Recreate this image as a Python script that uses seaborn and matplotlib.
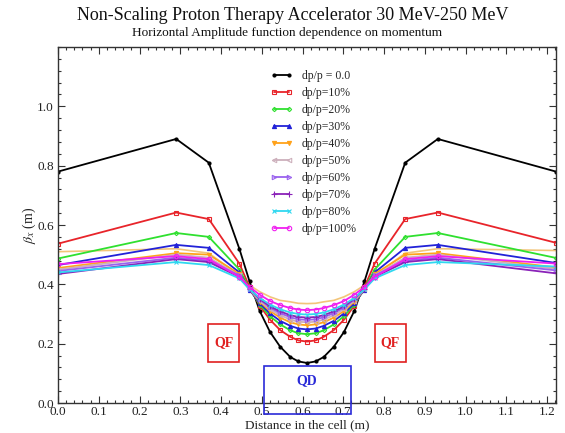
import matplotlib
matplotlib.use("Agg")
import matplotlib.pyplot as plt
import seaborn as sns
from matplotlib.patches import Rectangle
from matplotlib.ticker import MultipleLocator

# ---------------- data ----------------
distance = [0.0, 0.29, 0.37, 0.445, 0.47, 0.495, 0.52, 0.545, 0.57, 0.59, 0.611,
            0.632, 0.652, 0.677, 0.702, 0.727, 0.752, 0.777, 0.852, 0.932, 1.222]

beta_0 = [0.78, 0.89, 0.81, 0.52, 0.41, 0.31, 0.24, 0.19, 0.155, 0.14, 0.135,
          0.14, 0.155, 0.19, 0.24, 0.31, 0.41, 0.52, 0.81, 0.89, 0.78]
beta_10 = [0.537, 0.642, 0.62, 0.47, 0.391, 0.328, 0.281, 0.246, 0.223, 0.211, 0.207,
           0.211, 0.223, 0.246, 0.281, 0.328, 0.391, 0.47, 0.62, 0.642, 0.54]
beta_20 = [0.487, 0.573, 0.56, 0.45, 0.385, 0.332, 0.293, 0.265, 0.245, 0.235, 0.232,
           0.235, 0.245, 0.265, 0.293, 0.332, 0.385, 0.45, 0.56, 0.573, 0.489]
beta_30 = [0.465, 0.533, 0.523, 0.44, 0.382, 0.336, 0.302, 0.277, 0.26, 0.251, 0.248,
           0.251, 0.26, 0.277, 0.302, 0.336, 0.382, 0.44, 0.523, 0.533, 0.472]
beta_40 = [0.455, 0.505, 0.50, 0.435, 0.383, 0.342, 0.31, 0.288, 0.272, 0.265, 0.262,
           0.265, 0.272, 0.288, 0.31, 0.342, 0.383, 0.435, 0.50, 0.505, 0.457]
beta_50 = [0.45, 0.50, 0.49, 0.43, 0.383, 0.345, 0.316, 0.296, 0.281, 0.274, 0.272,
           0.274, 0.281, 0.296, 0.316, 0.345, 0.383, 0.43, 0.49, 0.50, 0.452]
beta_60 = [0.445, 0.49, 0.48, 0.43, 0.385, 0.349, 0.322, 0.303, 0.289, 0.282, 0.28,
           0.282, 0.289, 0.303, 0.322, 0.349, 0.385, 0.43, 0.48, 0.49, 0.447]
beta_70 = [0.435, 0.485, 0.475, 0.425, 0.384, 0.351, 0.326, 0.309, 0.296, 0.29, 0.288,
           0.29, 0.296, 0.309, 0.326, 0.351, 0.384, 0.425, 0.475, 0.485, 0.437]
beta_80 = [0.44, 0.475, 0.465, 0.42, 0.383, 0.354, 0.332, 0.316, 0.305, 0.30, 0.298,
           0.30, 0.305, 0.316, 0.332, 0.354, 0.383, 0.42, 0.465, 0.475, 0.46]
beta_90 = [0.51, 0.52, 0.505, 0.43, 0.397, 0.375, 0.358, 0.346, 0.341, 0.336, 0.335,
           0.336, 0.341, 0.346, 0.358, 0.375, 0.397, 0.43, 0.505, 0.52, 0.514]
beta_100 = [0.468, 0.495, 0.485, 0.425, 0.391, 0.365, 0.344, 0.33, 0.32, 0.315, 0.313,
            0.315, 0.32, 0.33, 0.344, 0.365, 0.391, 0.425, 0.485, 0.495, 0.47]

legend_labels = ["dp/p = 0.0", "dp/p=10%", "dp/p=20%", "dp/p=30%", "dp/p=40%",
                 "dp/p=50%", "dp/p=60%", "dp/p=70%", "dp/p=80%", "dp/p=100%"]

title = "Non-Scaling Proton Therapy Accelerator 30 MeV-250 MeV"
subtitle = "Horizontal Amplitude function dependence on momentum"
x_label = "Distance in the cell (m)"
y_label = r"$\beta_x$ (m)"
x_ticks = [0.0, 0.1, 0.2, 0.3, 0.4, 0.5, 0.6, 0.7, 0.8, 0.9, 1.0, 1.1, 1.2]
y_ticks = [0.0, 0.2, 0.4, 0.6, 0.8, 1.0]

# ---------------- style ----------------
sns.set_style("ticks")
plt.rcParams["font.family"] = ["Liberation Serif", "DejaVu Serif"]
plt.rcParams["mathtext.fontset"] = "stix"

fig = plt.figure(figsize=(5.65, 4.33), dpi=100)
ax = fig.add_axes([58 / 565, 30 / 433, 498 / 565, 356 / 433])

# unlabeled light curve first (drawn underneath)
sns.lineplot(x=distance, y=beta_90, ax=ax, color="#f2c57a", lw=1.2, legend=False)

styles = [
    (beta_0, "#000000", "o", 2.2, "#000000"),
    (beta_10, "#e8242a", "s", 3.0, "none"),
    (beta_20, "#2fe02f", "D", 2.2, "none"),
    (beta_30, "#2222d8", "^", 3.0, "#2222d8"),
    (beta_40, "#ffa21a", "v", 3.0, "#ffa21a"),
    (beta_50, "#cdb0bc", "<", 3.2, "none"),
    (beta_60, "#9a62ee", ">", 3.2, "none"),
    (beta_70, "#8a22b8", "+", 4.0, "#8a22b8"),
    (beta_80, "#30d8f0", "x", 3.0, "#30d8f0"),
    (beta_100, "#f020f0", "o", 3.2, "none"),
]

handles = []
for vals, col, mk, ms, mfc in styles:
    sns.lineplot(x=distance, y=vals, ax=ax, color=col, lw=1.3, marker=mk,
                 markersize=ms, markerfacecolor=mfc, markeredgecolor=col,
                 markeredgewidth=0.8, legend=False)
    handles.append(ax.lines[-1])

ax.legend(handles, legend_labels, loc="upper left", bbox_to_anchor=(0.4257, 0.935),
          frameon=False, numpoints=2, handlelength=1.95, handletextpad=0.75,
          labelspacing=0.42, fontsize=8.5, borderpad=0, borderaxespad=0)

# magnet boxes
ax.add_patch(Rectangle((0.369, 0.137), 0.076, 0.13, fill=False, ec="#e02020", lw=1.2))
ax.add_patch(Rectangle((0.777, 0.137), 0.076, 0.13, fill=False, ec="#e02020", lw=1.2))
ax.add_patch(Rectangle((0.506, -0.037), 0.212, 0.162, fill=False, ec="#2a2ad8",
                       lw=1.2, clip_on=False, zorder=5))
ax.text(0.407, 0.202, "QF", color="#e02020", fontsize=10, fontweight="bold",
        ha="center", va="center")
ax.text(0.815, 0.202, "QF", color="#e02020", fontsize=10, fontweight="bold",
        ha="center", va="center")
ax.text(0.611, 0.074, "QD", color="#2a2ad8", fontsize=10, fontweight="bold",
        ha="center", va="center")

# axes
ax.set_xlim(0, 1.222)
ax.set_ylim(0, 1.2)
ax.set_xticks(x_ticks)
ax.set_xticklabels([f"{t:.1f}" for t in x_ticks])
ax.set_yticks(y_ticks)
ax.set_yticklabels([f"{t:.1f}" for t in y_ticks])
ax.xaxis.set_minor_locator(MultipleLocator(0.02))
ax.yaxis.set_minor_locator(MultipleLocator(0.04))
ax.tick_params(which="both", direction="in", top=True, right=True, width=0.8,
               colors="#333333", labelcolor="#222222", labelsize=9.5)
ax.tick_params(axis="x", pad=2.5)
ax.tick_params(axis="y", pad=3)
ax.tick_params(which="major", length=5)
ax.tick_params(which="minor", length=2.5)
for sp in ax.spines.values():
    sp.set_linewidth(1.0)
    sp.set_color("#333333")

ax.set_xlabel(x_label, fontsize=9.5, labelpad=0.5, color="#222222")
ax.set_ylabel(y_label, fontsize=10, labelpad=-1, color="#222222")

fig.text(293 / 565, 1 - 15 / 433, title, ha="center", va="center", fontsize=13,
         color="#111111")
fig.text(287 / 565, 1 - 33 / 433, subtitle, ha="center", va="center", fontsize=9.5,
         color="#111111")

fig.savefig("out.png", dpi=100)
